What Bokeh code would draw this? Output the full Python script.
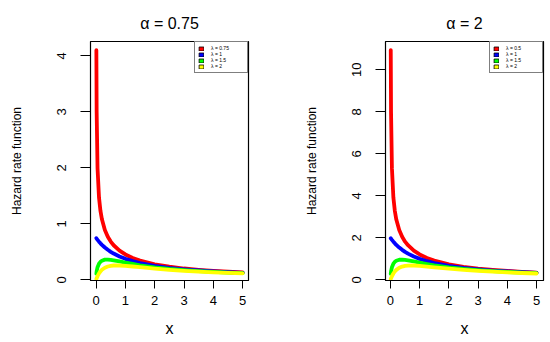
from bokeh.plotting import figure
from bokeh.models import Range1d, Legend, LegendItem
from bokeh.layouts import row
from bokeh.embed import file_html
from bokeh.resources import INLINE

# ---------------- data ----------------
x_vals = [0.01, 0.02, 0.05, 0.1, 0.15, 0.2, 0.3, 0.4, 0.5, 0.6, 0.8, 1.0,
          1.25, 1.5, 2.0, 2.5, 3.0, 3.5, 4.0, 4.5, 5.0]

# alpha = 0.75 panel
a1_red = [4.10, 2.99, 1.99, 1.47, 1.23, 1.08, 0.889, 0.769, 0.683, 0.617, 0.521,
          0.453, 0.390, 0.344, 0.278, 0.234, 0.202, 0.178, 0.159, 0.144, 0.131]
a1_blue = [0.743, 0.735, 0.714, 0.682, 0.652, 0.625, 0.577, 0.536, 0.500, 0.469,
           0.417, 0.375, 0.333, 0.300, 0.250, 0.214, 0.188, 0.167, 0.150, 0.136, 0.125]
a1_green = [0.110, 0.152, 0.225, 0.288, 0.322, 0.342, 0.360, 0.362, 0.357, 0.349,
            0.329, 0.308, 0.283, 0.260, 0.224, 0.196, 0.174, 0.156, 0.142, 0.129, 0.119]
a1_yellow = [0.015, 0.028, 0.065, 0.114, 0.151, 0.179, 0.216, 0.238, 0.250, 0.256,
             0.256, 0.250, 0.238, 0.225, 0.200, 0.179, 0.161, 0.146, 0.133, 0.123, 0.114]

# alpha = 2 panel
a2_red = [10.94, 7.98, 5.32, 3.92, 3.28, 2.87, 2.37, 2.05, 1.82, 1.65, 1.39, 1.21,
          1.04, 0.916, 0.742, 0.624, 0.539, 0.474, 0.424, 0.383, 0.349]
a2_blue = [1.980, 1.961, 1.905, 1.818, 1.739, 1.667, 1.538, 1.429, 1.333, 1.250,
           1.111, 1.000, 0.889, 0.800, 0.667, 0.571, 0.500, 0.444, 0.400, 0.364, 0.333]
a2_green = [0.293, 0.405, 0.600, 0.769, 0.860, 0.913, 0.959, 0.966, 0.953, 0.932,
            0.877, 0.820, 0.754, 0.695, 0.597, 0.522, 0.463, 0.416, 0.377, 0.345, 0.318]
a2_yellow = [0.039, 0.075, 0.173, 0.303, 0.401, 0.476, 0.577, 0.635, 0.667, 0.682,
             0.684, 0.667, 0.635, 0.600, 0.533, 0.476, 0.429, 0.389, 0.356, 0.327, 0.303]

titles = ["α = 0.75", "α = 2"]
legend_left = ["λ = 0.75", "λ = 1", "λ = 1.5", "λ = 2"]
legend_right = ["λ = 0.5", "λ = 1", "λ = 1.5", "λ = 2"]
x_ticks = [0, 1, 2, 3, 4, 5]
y_ticks_left = [0, 1, 2, 3, 4]
y_ticks_right = [0, 2, 4, 6, 8, 10]
y_label = "Hazard rate function"
x_label = "x"

colors = ["#FF0000", "#0000FF", "#00FF00", "#FFFF00"]
FONT = "Liberation Sans"


def make_panel(title, series, labels, xr, yr, yticks, width, bl, br):
    p = figure(width=width, height=342, x_range=Range1d(*xr), y_range=Range1d(*yr),
               output_backend="svg", toolbar_location=None,
               min_border_left=bl, min_border_right=br,
               min_border_top=41, min_border_bottom=62)
    p.xgrid.visible = False
    p.ygrid.visible = False
    p.background_fill_color = "white"
    p.border_fill_color = "white"
    p.outline_line_color = "black"
    p.outline_line_width = 1.2
    p.outline_line_alpha = 1.0

    p.title.text = title
    p.title.align = "center"
    p.title.offset = -3
    p.title.standoff = 19
    p.title.text_font = FONT
    p.title.text_font_size = "16px"
    p.title.text_font_style = "normal"
    p.title.text_color = "black"

    p.xaxis.ticker = x_ticks
    p.yaxis.ticker = yticks
    for ax in p.axis:
        ax.axis_line_color = "black"
        ax.axis_line_width = 1
        ax.major_tick_line_color = "black"
        ax.major_tick_line_width = 1
        ax.minor_tick_line_color = None
        ax.major_tick_in = 0
        ax.major_label_text_font = FONT
        ax.major_label_text_font_size = "13px"
        ax.major_label_text_color = "black"
        ax.axis_label_text_font = FONT
        ax.axis_label_text_font_style = "normal"
        ax.axis_label_text_color = "black"
    p.xaxis.major_tick_out = 8
    p.xaxis.major_label_standoff = 7
    p.xaxis.axis_label = x_label
    p.xaxis.axis_label_text_font_size = "16px"
    p.xaxis.axis_label_standoff = 12
    p.yaxis.major_tick_out = 10
    p.yaxis.major_label_standoff = 14
    p.yaxis.major_label_orientation = "vertical"
    p.yaxis.axis_label = y_label
    p.yaxis.axis_label_text_font_size = "12px"
    p.yaxis.axis_label_standoff = 31

    for c, ys in zip(colors, series):
        p.line(x_vals, ys, line_color=c, line_width=3.8, line_join="round", line_cap="round")

    items = []
    for c, lab, ys in zip(colors, labels, series):
        # zero-size box at the curve's last point: invisible in the plot,
        # used only to draw a filled legend key
        r = p.quad(left=x_vals[-1:], right=x_vals[-1:], top=ys[-1:], bottom=ys[-1:],
                   fill_color=c, line_color="black", line_width=0.8)
        items.append(LegendItem(label=lab, renderers=[r]))
    leg = Legend(items=items, location="top_right", margin=0, padding=3, spacing=0,
                 glyph_width=6, glyph_height=5, label_height=5, label_width=33,
                 label_standoff=7, label_text_font=FONT, label_text_font_size="5px",
                 label_text_color="black", border_line_color="black",
                 border_line_width=1, background_fill_color="white",
                 background_fill_alpha=1.0)
    p.add_layout(leg)
    return p


p1 = make_panel(titles[0], [a1_red, a1_blue, a1_green, a1_yellow], legend_left,
                (-0.19, 5.2), (-0.012, 4.255), y_ticks_left, 298, 90, 50)
p2 = make_panel(titles[1], [a2_red, a2_blue, a2_green, a2_yellow], legend_right,
                (-0.17, 5.24), (-0.03, 11.35), y_ticks_right, 252, 87, 7)

layout = row(p1, p2)
open("out.html", "w").write(file_html(layout, INLINE))
